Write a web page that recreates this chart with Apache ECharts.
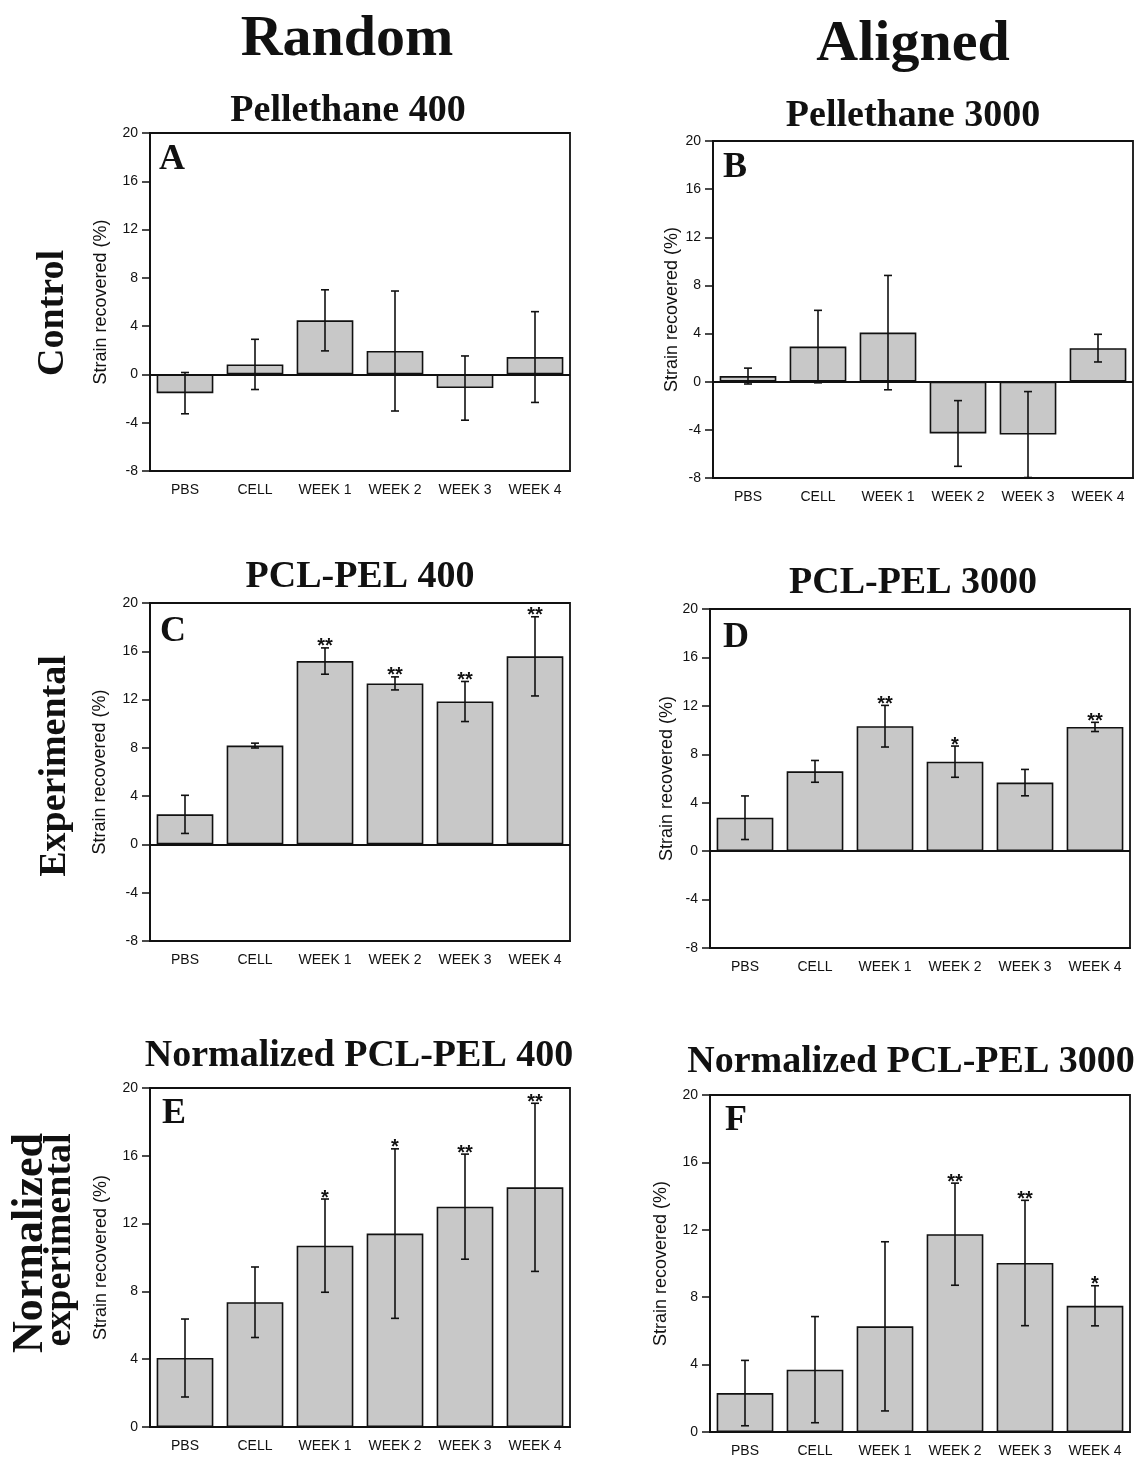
<!DOCTYPE html>
<html>
<head>
<meta charset="utf-8">
<script src="https://cdn.jsdelivr.net/npm/echarts@6/dist/echarts.min.js"></script>
<style>
  html, body { margin: 0; padding: 0; background: #fff; }
  #chart { width: 1140px; height: 1458px; }
</style>
</head>
<body>
<div id="chart"></div>
<script>
// ---------- DATA ----------
const categories = ['PBS', 'CELL', 'WEEK 1', 'WEEK 2', 'WEEK 3', 'WEEK 4'];
const yTicksSigned = [-8, 20];   // range of panels A-D
const yTicksPositive = [0, 20];  // range of panels E-F

const meanA = [-1.55, 0.83, 4.48, 1.94, -1.13, 1.44];
const errA  = [1.71, 2.08, 2.53, 4.97, 2.66, 3.76];
const starsA = ['', '', '', '', '', ''];

const meanB = [0.47, 2.92, 4.08, -4.30, -4.39, 2.79];
const errB  = [0.66, 3.01, 4.75, 2.73, 3.57, 1.15];
const starsB = ['', '', '', '', '', ''];

const meanC = [2.49, 8.19, 15.19, 13.34, 11.84, 15.58];
const errC  = [1.58, 0.20, 1.09, 0.54, 1.66, 3.28];
const starsC = ['', '', '**', '**', '**', '**'];

const meanD = [2.76, 6.59, 10.32, 7.39, 5.66, 10.26];
const errD  = [1.80, 0.90, 1.72, 1.29, 1.09, 0.38];
const starsD = ['', '', '**', '*', '', '**'];

const meanE = [4.07, 7.36, 10.70, 11.41, 13.00, 14.14];
const errE  = [2.30, 2.08, 2.75, 5.00, 3.10, 4.96];
const starsE = ['', '', '*', '*', '**', '**'];

const meanF = [2.31, 3.70, 6.27, 11.74, 10.03, 7.49];
const errF  = [1.94, 3.15, 5.02, 3.03, 3.72, 1.19];
const starsF = ['', '', '', '**', '**', '*'];

const panelTitles = ['Pellethane 400', 'Pellethane 3000', 'PCL-PEL 400', 'PCL-PEL 3000',
                     'Normalized PCL-PEL 400', 'Normalized PCL-PEL 3000'];
const panelLetters = ['A', 'B', 'C', 'D', 'E', 'F'];
const columnTitles = ['Random', 'Aligned'];
const rowTitles = ['Control', 'Experimental'];
const yAxisTitle = 'Strain recovered (%)';

// ---------- LAYOUT ----------
const panels = [
  { mean: meanA, err: errA, stars: starsA, range: yTicksSigned, grid: { left: 150, top: 133, width: 420, height: 338 }, nameGap: 40, title: [348, 111], letter: [159, 160] },
  { mean: meanB, err: errB, stars: starsB, range: yTicksSigned, grid: { left: 713, top: 141, width: 420, height: 337 }, nameGap: 32, title: [913, 116], letter: [723, 168] },
  { mean: meanC, err: errC, stars: starsC, range: yTicksSigned, grid: { left: 150, top: 603, width: 420, height: 338 }, nameGap: 41, title: [360, 577], letter: [160, 632] },
  { mean: meanD, err: errD, stars: starsD, range: yTicksSigned, grid: { left: 710, top: 609, width: 420, height: 339 }, nameGap: 34, title: [913, 583], letter: [723, 638] },
  { mean: meanE, err: errE, stars: starsE, range: yTicksPositive, grid: { left: 150, top: 1088, width: 420, height: 339 }, nameGap: 40, title: [359, 1056], letter: [162, 1114] },
  { mean: meanF, err: errF, stars: starsF, range: yTicksPositive, grid: { left: 710, top: 1095, width: 420, height: 338 }, nameGap: 40, title: [911, 1062], letter: [725, 1121] }
];

const INK = '#111';
const SANS = '"Liberation Sans", Arial, Helvetica, sans-serif';
const SERIF = '"Liberation Serif", "Times New Roman", serif';
const FRAME_W = 1.8;

const grids = [], xAxes = [], yAxes = [], series = [], graphics = [];

panels.forEach((p, i) => {
  grids.push(Object.assign({ show: true, borderColor: INK, borderWidth: FRAME_W, backgroundColor: 'transparent' }, p.grid));
  xAxes.push({
    gridIndex: i, type: 'category', data: categories,
    axisLine: { onZero: false, lineStyle: { color: INK, width: FRAME_W } },
    axisTick: { alignWithLabel: true, length: 8, lineStyle: { color: INK, width: 1.5 } },
    axisLabel: { fontSize: 14, color: INK, margin: 12, fontFamily: SANS },
    splitLine: { show: false }
  });
  yAxes.push({
    gridIndex: i, type: 'value', min: p.range[0], max: p.range[1], interval: 4,
    axisLine: { show: true, lineStyle: { color: INK, width: FRAME_W } },
    axisTick: { show: true, length: 8, lineStyle: { color: INK, width: 1.5 } },
    axisLabel: { fontSize: 14, color: INK, margin: 12, fontFamily: SANS },
    splitLine: { show: false },
    name: yAxisTitle, nameLocation: 'middle', nameGap: p.nameGap,
    nameTextStyle: { fontSize: 18, color: INK, fontFamily: SANS }
  });
  const bar = {
    type: 'bar', xAxisIndex: i, yAxisIndex: i, data: p.mean, barWidth: '81%',
    itemStyle: { color: '#c8c8c8', borderColor: INK, borderWidth: 1.6 },
    silent: true, animation: false, z: 2
  };
  if (p.range[0] < 0) {
    bar.markLine = {
      silent: true, symbol: 'none', animation: false,
      label: { show: false },
      lineStyle: { color: INK, type: 'solid', width: FRAME_W },
      data: [{ yAxis: 0 }]
    };
  }
  series.push(bar);
  const stars = p.stars;
  series.push({
    type: 'custom', xAxisIndex: i, yAxisIndex: i, silent: true, animation: false, z: 5,
    data: p.mean.map((m, j) => [j, m - p.err[j], m + p.err[j]]),
    renderItem: function (params, api) {
      const lo = api.coord([api.value(0), api.value(1)]);
      const hi = api.coord([api.value(0), api.value(2)]);
      const hw = 4;
      const st = { stroke: INK, lineWidth: 1.6 };
      const children = [
        { type: 'line', shape: { x1: lo[0], y1: lo[1], x2: hi[0], y2: hi[1] }, style: st },
        { type: 'line', shape: { x1: lo[0] - hw, y1: lo[1], x2: lo[0] + hw, y2: lo[1] }, style: st },
        { type: 'line', shape: { x1: hi[0] - hw, y1: hi[1], x2: hi[0] + hw, y2: hi[1] }, style: st }
      ];
      const s = stars[params.dataIndex];
      if (s) {
        children.push({
          type: 'text', x: hi[0], y: hi[1] - 1,
          style: { text: s, fill: INK, font: 'bold 20px ' + SANS, align: 'center', verticalAlign: 'middle' }
        });
      }
      return { type: 'group', children: children };
    }
  });
  graphics.push({
    type: 'text', x: p.title[0], y: p.title[1],
    style: { text: panelTitles[i], fill: INK, font: 'bold 38px ' + SERIF, align: 'center', verticalAlign: 'middle' }
  });
  graphics.push({
    type: 'text', x: p.letter[0], y: p.letter[1],
    style: { text: panelLetters[i], fill: INK, font: 'bold 36px ' + SERIF, align: 'left', verticalAlign: 'middle' }
  });
});

graphics.push({ type: 'text', x: 347, y: 40, style: { text: columnTitles[0], fill: INK, font: 'bold 58px ' + SERIF, align: 'center', verticalAlign: 'middle' } });
graphics.push({ type: 'text', x: 913, y: 45, style: { text: columnTitles[1], fill: INK, font: 'bold 58px ' + SERIF, align: 'center', verticalAlign: 'middle' } });
graphics.push({ type: 'text', x: 53, y: 313, rotation: Math.PI / 2, style: { text: rowTitles[0], fill: INK, font: 'bold 38px ' + SERIF, align: 'center', verticalAlign: 'middle' } });
graphics.push({ type: 'text', x: 55, y: 766, rotation: Math.PI / 2, style: { text: rowTitles[1], fill: INK, font: 'bold 38px ' + SERIF, align: 'center', verticalAlign: 'middle' } });
graphics.push({ type: 'text', x: 31, y: 1243, rotation: Math.PI / 2, style: { text: 'Normalized', fill: INK, font: 'bold 44px ' + SERIF, align: 'center', verticalAlign: 'middle' } });
graphics.push({ type: 'text', x: 60, y: 1240, rotation: Math.PI / 2, style: { text: 'experimental', fill: INK, font: 'bold 38px ' + SERIF, align: 'center', verticalAlign: 'middle' } });

const chart = echarts.init(document.getElementById('chart'), null, { renderer: 'canvas' });
chart.setOption({
  backgroundColor: '#fff',
  animation: false,
  grid: grids,
  xAxis: xAxes,
  yAxis: yAxes,
  series: series,
  graphic: graphics
});
</script>
</body>
</html>
